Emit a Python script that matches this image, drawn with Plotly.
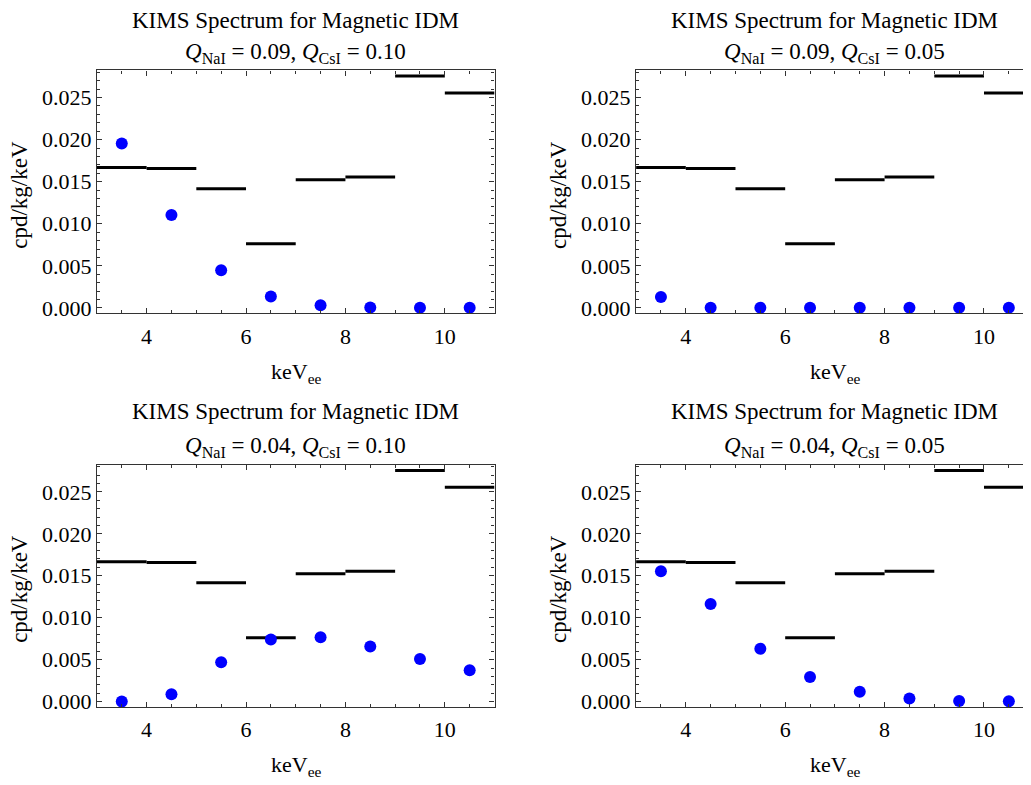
import plotly.graph_objects as go

# ---- data ----
bin_lo = [3, 4, 5, 6, 7, 8, 9, 10]
bin_hi = [4, 5, 6, 7, 8, 9, 10, 11]
kims_rate = [0.01668, 0.01657, 0.01417, 0.00762, 0.01523, 0.01555, 0.02755, 0.02555]

bin_center = [3.5, 4.5, 5.5, 6.5, 7.5, 8.5, 9.5, 10.5]
idm_q09_q10 = [0.01955, 0.01103, 0.00447, 0.00137, 0.00031, 0.00005, 0.00002, 0.00001]
idm_q09_q05 = [0.00130, 0.00003, 0.00001, 0.00001, 0.00001, 0.00001, 0.00001, 0.00001]
idm_q04_q10 = [0.00002, 0.00087, 0.00469, 0.00740, 0.00768, 0.00657, 0.00508, 0.00374]
idm_q04_q05 = [0.01555, 0.01165, 0.00630, 0.00295, 0.00118, 0.00039, 0.00008, 0.00004]

panel_series = [idm_q09_q10, idm_q09_q05, idm_q04_q10, idm_q04_q05]
q_nai = ["0.09", "0.09", "0.04", "0.04"]
q_csi = ["0.10", "0.05", "0.10", "0.05"]
main_title = "KIMS Spectrum for Magnetic IDM"
y_label = "cpd/kg/keV"
x_label = "keV<sub>ee</sub>"

# ---- layout geometry (reference pixel coords; page body adds 8px offset) ----
OFF = 8
W, H = 1031 - OFF, 785 - OFF
FONT = "'Liberation Serif', 'Times New Roman', Times, 'DejaVu Serif', serif"


def px_x(x):
    return (x - OFF) / W


def px_y(y):
    return 1 - (y - OFF) / H


x_px = [(97, 495), (636.7, 1031)]
x_ranges = [[3, 11], [3, 3 + (1031 - 636.7) / 49.75]]
y_px = [(71, 316), (469, 713.3)]
y_range = [-0.00063, 0.02822]

fig = go.Figure()
annotations = []
layout_axes = {}

for i, series in enumerate(panel_series):
    row, col = divmod(i, 2)
    n = i + 1
    xa = "x" if n == 1 else f"x{n}"
    ya = "y" if n == 1 else f"y{n}"
    xs, ys = [], []
    for lo, hi, v in zip(bin_lo, bin_hi, kims_rate):
        xs += [lo, hi, None]
        ys += [v, v, None]
    fig.add_trace(go.Scatter(x=xs, y=ys, mode="lines",
                             line=dict(color="black", width=3),
                             xaxis=xa, yaxis=ya, showlegend=False))
    fig.add_trace(go.Scatter(x=bin_center, y=series, mode="markers",
                             marker=dict(color="#0000ff", size=12),
                             xaxis=xa, yaxis=ya, showlegend=False))

    axis_common = dict(showline=True, linecolor="#333", linewidth=1.2,
                       mirror="ticks", ticks="inside", tickcolor="#333",
                       showgrid=False, zeroline=False,
                       tickfont=dict(family=FONT, size=22, color="black"))
    x0p, x1p = x_px[col]
    y0p, y1p = y_px[row]
    layout_axes["xaxis" if n == 1 else f"xaxis{n}"] = dict(
        domain=[px_x(x0p), min(1.0, px_x(x1p))], range=x_ranges[col], anchor=ya,
        tick0=0, dtick=2, ticklen=5, tickwidth=1, ticklabelstandoff=3,
        minor=dict(dtick=0.5, tick0=0, ticks="inside", ticklen=3, tickcolor="#333"),
        **axis_common)
    layout_axes["yaxis" if n == 1 else f"yaxis{n}"] = dict(
        domain=[px_y(y1p), px_y(y0p)], range=y_range, anchor=xa,
        tick0=0, dtick=0.005, tickformat=".3f", ticklen=5, tickwidth=1,
        minor=dict(dtick=0.001, tick0=0, ticks="inside", ticklen=3, tickcolor="#333"),
        **axis_common)

    xc = px_x((x0p + x0p + 398) / 2)
    title_y = max(y0p - 54, 21)
    annotations.append(dict(text=main_title, x=xc, y=px_y(title_y),
                            xref="paper", yref="paper", showarrow=False,
                            xanchor="center", yanchor="middle",
                            font=dict(family=FONT, size=23, color="black")))
    annotations.append(dict(text=f"<i>Q</i><sub>NaI</sub> = {q_nai[i]}, <i>Q</i><sub>CsI</sub> = {q_csi[i]}",
                            x=xc, y=px_y(y0p - 18),
                            xref="paper", yref="paper", showarrow=False,
                            xanchor="center", yanchor="middle",
                            font=dict(family=FONT, size=23, color="black")))
    annotations.append(dict(text=x_label, x=xc, y=px_y(y1p + 60),
                            xref="paper", yref="paper", showarrow=False,
                            xanchor="center", yanchor="middle",
                            font=dict(family=FONT, size=22, color="black")))
    annotations.append(dict(text=y_label, x=px_x(x0p - 77),
                            y=px_y((y0p + y1p) / 2 + 3),
                            xref="paper", yref="paper", showarrow=False,
                            textangle=-90, xanchor="center", yanchor="middle",
                            font=dict(family=FONT, size=23, color="black")))

fig.update_layout(width=W, height=H, margin=dict(l=0, r=0, t=0, b=0),
                  paper_bgcolor="white", plot_bgcolor="white",
                  annotations=annotations, **layout_axes)

fig.write_html("out.html")
